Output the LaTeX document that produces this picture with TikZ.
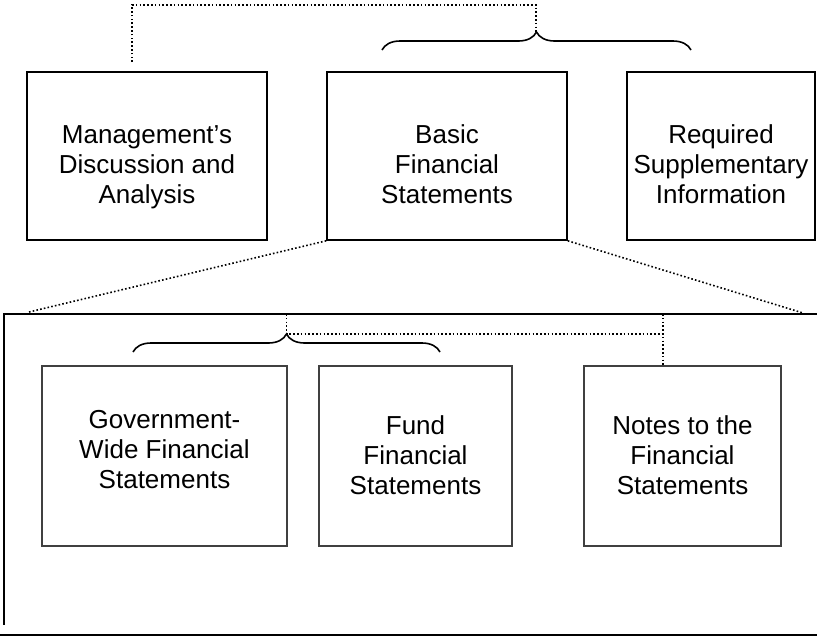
\documentclass[tikz,border=0pt]{standalone}
\usepackage{fontspec}
\setmainfont{Liberation Sans}
\usetikzlibrary{decorations.pathreplacing}
\tikzset{
  topbox/.style={draw, line width=1.6pt, minimum width=#1, minimum height=168pt, inner sep=0pt},
  lowbox/.style={draw=black!75, line width=1.1pt, minimum width=#1, minimum height=180pt, inner sep=0pt},
  boxtext/.style={align=center, inner sep=0pt, font=\fontsize{26}{30}\selectfont},
  dots/.style={line width=1.6pt, dash pattern=on 1.6pt off 2.2pt},
  curly/.style={decorate, decoration={brace, amplitude=18pt}, line width=1.6pt},
}
\begin{document}
\begin{tikzpicture}[x=1pt, y=-1pt]
  \useasboundingbox (0,0) rectangle (817,638);
  % top row
  \node[topbox=240pt] (mda) at (147,156) {};
  \node[topbox=240pt] (bfs) at (447,156) {};
  \node[topbox=188pt] (rsi) at (721,156) {};
  \node[boxtext] (mdatext) at ([yshift=-11pt]mda.center) {Management’s\\Discussion and\\Analysis};
  \node[boxtext] (bfstext) at ([yshift=-8pt]bfs.center) {Basic\\Financial\\Statements};
  \node[boxtext] (rsitext) at ([yshift=-8pt]rsi.center) {Required\\Supplementary\\Information};
  \coordinate (topleft) at (382,50);
  \coordinate (topright) at (691,50);
  \coordinate (toptip) at (536,32);
  \coordinate (mdajoin) at (132,62);
  \draw[curly] (topleft) -- (topright);
  \draw[dots] (mdajoin) -- (132,5) -- (toptip |- 0,5) -- (toptip);
  % detail frame
  \coordinate (frameleft) at (29,312);
  \coordinate (frameright) at (803,313);
  \draw[dots] (bfs.south west) -- (frameleft);
  \draw[dots] (bfs.south east) -- (frameright);
  \draw[line width=1.8pt] (817,314) -- (4,314) -- (4,625);
  \draw[line width=1.8pt] (0,635) -- (817,635);
  % bottom row
  \node[lowbox=245pt] (gw) at (164.5,456) {};
  \node[lowbox=193pt] (fund) at (415.5,456) {};
  \node[lowbox=197pt] (notes) at (682.5,456) {};
  \node[boxtext] (gwtext) at ([yshift=6pt]gw.center) {Government-\\Wide Financial\\Statements};
  \node[boxtext] (fundtext) at ([yshift=1pt]fund.center) {Fund\\Financial\\Statements};
  \node[boxtext] (notestext) at ([yshift=1pt]notes.center) {Notes to the\\Financial\\Statements};
  \coordinate (lowleft) at (133,352);
  \coordinate (lowright) at (440,352);
  \coordinate (lowtip) at (286.5,334);
  \coordinate (notesjoin) at (663,314);
  \draw[curly] (lowleft) -- (lowright);
  \draw[dots] (lowtip |- notesjoin) -- (lowtip) -- (notesjoin |- lowtip);
  \draw[dots] (notesjoin) -- (notesjoin |- notes.north);
\end{tikzpicture}
\end{document}
